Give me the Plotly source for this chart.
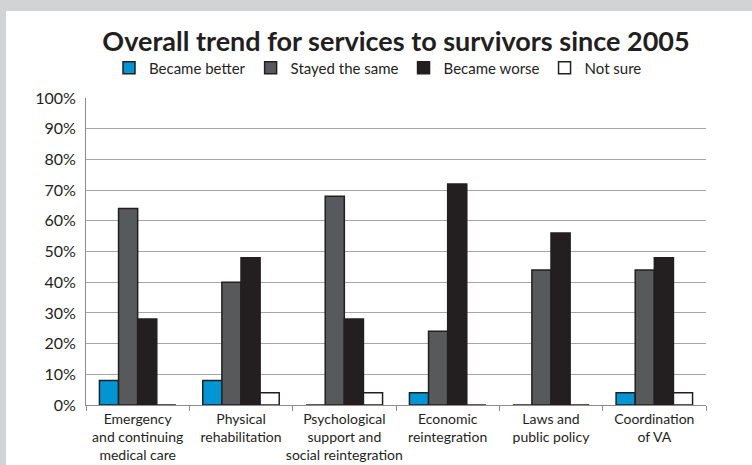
import plotly.graph_objects as go

categories = [
    "Emergency<br>and continuing<br>medical care",
    "Physical<br>rehabilitation",
    "Psychological<br>support and<br>social reintegration",
    "Economic<br>reintegration",
    "Laws and<br>public policy",
    "Coordination<br>of VA",
]
became_better = [8, 8, 0, 4, 0, 4]
stayed_same = [64, 40, 68, 24, 44, 44]
became_worse = [28, 48, 28, 72, 56, 48]
not_sure = [0, 4, 4, 0, 0, 4]

series = [
    ("Became better", became_better, "#0096d6"),
    ("Stayed the same", stayed_same, "#58595b"),
    ("Became worse", became_worse, "#231f20"),
    ("Not sure", not_sure, "#ffffff"),
]

W, H = 752, 465
L, R, T, B = 86, 46, 98, 60
pw, ph = W - L - R, H - T - B

fig = go.Figure()
for name, vals, col in series:
    fig.add_trace(go.Bar(
        x=categories, y=vals, name=name,
        marker=dict(color=col, line=dict(color="#231f20", width=1.5)),
    ))

font_family = "Lato, 'Open Sans', sans-serif"
fig.update_layout(
    width=W, height=H,
    margin=dict(l=L, r=R, t=T, b=B, autoexpand=False),
    paper_bgcolor="white", plot_bgcolor="white",
    barmode="group", bargap=0.26, bargroupgap=0,
    font=dict(family=font_family, size=14, color="#231f20"),
    title=dict(
        text="<b>Overall trend for services to survivors since 2005</b>",
        font=dict(size=27, color="#231f20"),
        xref="container", yref="container",
        x=396 / W, xanchor="center", y=1 - 42 / H, yanchor="middle",
    ),
    legend=dict(
        orientation="h", xref="container", yref="container",
        x=378 / W, xanchor="center", y=1 - 68 / H, yanchor="middle",
        font=dict(size=15), itemwidth=30, tracegroupgap=0,
        bgcolor="rgba(0,0,0,0)",
    ),
    xaxis=dict(
        showline=True, linecolor="#8c8c8c", linewidth=1,
        ticks="outside", tickson="boundaries", ticklen=5, tickcolor="#8c8c8c",
        tickfont=dict(size=14), showgrid=False, tickangle=0, automargin=False,
        ticklabelstandoff=1,
    ),
    yaxis=dict(
        range=[0, 100], tickvals=list(range(0, 101, 10)),
        ticktext=[f"{v}%" for v in range(0, 101, 10)],
        showline=True, linecolor="#8c8c8c", linewidth=1,
        showgrid=True, gridcolor="#a6a6a6", gridwidth=1,
        ticks="", tickfont=dict(size=16), zeroline=False, automargin=False,
        ticklabelstandoff=6,
    ),
    shapes=[
        dict(type="rect", xref="paper", yref="paper", layer="below",
             x0=-L / pw, x1=(W - L) / pw, y0=1 + (T - 11) / ph, y1=1 + T / ph,
             fillcolor="#d2d3d5", line=dict(width=0)),
        dict(type="rect", xref="paper", yref="paper", layer="below",
             x0=-L / pw, x1=(6 - L) / pw, y0=-B / ph, y1=1 + T / ph,
             fillcolor="#d2d3d5", line=dict(width=0)),
    ],
)

fig.write_html("out.html")
